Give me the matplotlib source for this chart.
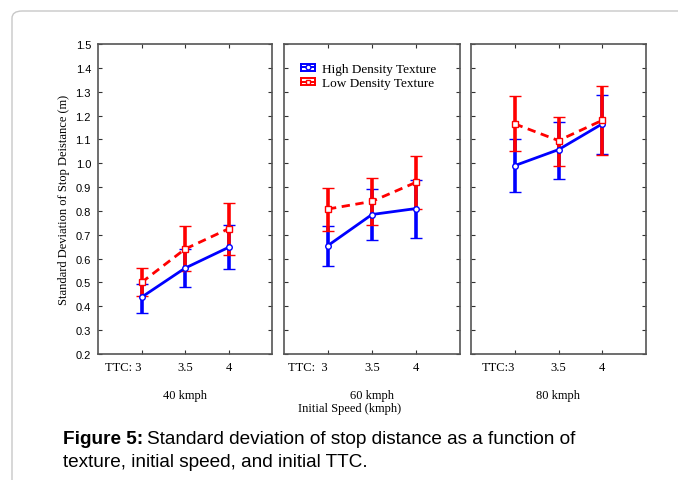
import matplotlib
matplotlib.use('Agg')
import numpy as np
import matplotlib.pyplot as plt
from matplotlib.patches import FancyBboxPatch
from matplotlib.lines import Line2D
from matplotlib.legend_handler import HandlerBase

matplotlib.rcParams.update({'font.size': 8})

ttc = [3, 3.5, 4]
speeds = ['40 kmph', '60 kmph', '80 kmph']
ttc_labels = [['TTC: 3', '3.5', '4'], ['TTC:  3', '3.5', '4'], ['TTC:3', '3.5', '4']]

# high density texture (blue): mean, lower end, upper end of error bar
high_mean = [[0.438, 0.56, 0.647], [0.655, 0.785, 0.81], [0.99, 1.057, 1.165]]
high_low = [[0.373, 0.48, 0.555], [0.568, 0.68, 0.687], [0.88, 0.935, 1.04]]
high_high = [[0.493, 0.64, 0.74], [0.736, 0.89, 0.93], [1.10, 1.175, 1.285]]

# low density texture (red)
low_mean = [[0.50, 0.64, 0.725], [0.808, 0.84, 0.92], [1.165, 1.095, 1.18]]
low_low = [[0.445, 0.55, 0.615], [0.717, 0.74, 0.81], [1.05, 0.99, 1.035]]
low_high = [[0.56, 0.735, 0.835], [0.895, 0.94, 1.03], [1.28, 1.195, 1.325]]


class ErrHandler(HandlerBase):
    # matlab style legend glyph: stacked bars with a marker in the middle
    def create_artists(self, legend, orig, xd, yd, width, height, fontsize, trans):
        c = orig.get_color()
        mk = orig.get_marker()
        y0 = height / 2 - yd
        dy = height * 0.4
        arts = []
        for off in (-dy, 0, dy):
            arts.append(Line2D([-xd, width - xd], [y0 + off, y0 + off], color=c, lw=1.4,
                               transform=trans))
        for xx in (-xd, width - xd):
            arts.append(Line2D([xx, xx], [y0 - dy, y0 + dy], color=c, lw=1.4, transform=trans))
        arts.append(Line2D([width / 2 - xd], [y0], marker=mk, ms=3.5, mfc='white', mec=c,
                           mew=1, ls='none', transform=trans))
        return arts


W, H = 678, 481
fig = plt.figure(figsize=(W / 100, H / 100), dpi=100)

# page frame
frame = FancyBboxPatch((12 / W, -0.2), 1.2, 1 - 12 / H + 0.2,
                       boxstyle='round,pad=0,rounding_size=0.015',
                       transform=fig.transFigure, fc='none', ec='#c8c8c8', lw=1)
fig.patches.append(frame)

lefts = [98, 284, 471]
widths = [174, 176, 175]
serif = 'Liberation Serif'
sans = 'Liberation Sans'

axes = []
handles = []
for i in range(3):
    ax = fig.add_axes([lefts[i] / W, 1 - 355 / H, widths[i] / W, 310 / H])
    axes.append(ax)
    hm = np.array(high_mean[i])
    lm = np.array(low_mean[i])
    eh = ax.errorbar(ttc, hm, yerr=[hm - np.array(high_low[i]), np.array(high_high[i]) - hm],
                     color='#0000ff', lw=2, elinewidth=2.6, capsize=4.5, capthick=2.4,
                     marker='o', ms=4, mfc='white', mec='#0000ff', mew=1)
    el = ax.errorbar(ttc, lm, yerr=[lm - np.array(low_low[i]), np.array(low_high[i]) - lm],
                     color='#ff0000', lw=2, ls=(0, (3, 2)), elinewidth=2.6, capsize=4.5,
                     capthick=2.4, marker='s', ms=4, mfc='white', mec='#ff0000', mew=1)
    el[-1][0].set_linestyle('-')
    if i == 1:
        handles = [eh[0], el[0]]
    ax.set_xlim(2.5, 4.5)
    ax.set_ylim(0.2, 1.5)
    ax.set_yticks(np.arange(0.2, 1.51, 0.1))
    ax.set_xticks(ttc)
    ax.set_xticklabels(ttc_labels[i], fontfamily=serif, fontsize=9)
    lab0 = ax.get_xticklabels()[0]
    lab0.set_horizontalalignment('right')
    lab0.set_x(3.06)
    ax.tick_params(direction='in', top=True, right=True, length=3, width=0.8,
                   color='#333333', pad=5)
    for s in ax.spines.values():
        s.set_color('#555555')
        s.set_linewidth(1.2)
    if i == 0:
        ax.set_yticklabels(['%.1f' % v for v in np.arange(0.2, 1.51, 0.1)],
                           fontfamily=sans, fontsize=8)
        ax.set_ylabel('Standard Deviation of Stop Deistance (m)', fontfamily=serif,
                      fontsize=9, labelpad=4)
    else:
        ax.set_yticklabels([])
    ax.text(3.5, -(396 - 355) / 310, speeds[i], transform=ax.get_xaxis_transform(),
            ha='center', va='center', fontfamily=serif, fontsize=9)

axes[1].legend(handles, ['High Density Texture', 'Low Density Texture'],
               handler_map={Line2D: ErrHandler()},
               loc='upper left', frameon=False, prop={'family': serif, 'size': 9.5},
               handlelength=1.1, handletextpad=0.55, labelspacing=0.15,
               borderaxespad=0.2, bbox_to_anchor=(0.05, 0.965))

fig.text(350 / W, 1 - 409 / H, 'Initial Speed (kmph)', ha='center', va='center',
         fontfamily=serif, fontsize=9)

# caption
cap_y = 1 - 440 / H
t1 = fig.text(63 / W, cap_y, 'Figure 5:', fontfamily=sans, fontweight='bold',
              fontsize=13.7, va='center')
fig.canvas.draw()
bb = t1.get_window_extent()
fig.text(bb.x1 / W + 4 / W, cap_y, 'Standard deviation of stop distance as a function of',
         fontfamily=sans, fontsize=13.7, va='center')
fig.text(63 / W, 1 - 463 / H, 'texture, initial speed, and initial TTC.',
         fontfamily=sans, fontsize=13.7, va='center')

fig.savefig('out.png', dpi=100)
